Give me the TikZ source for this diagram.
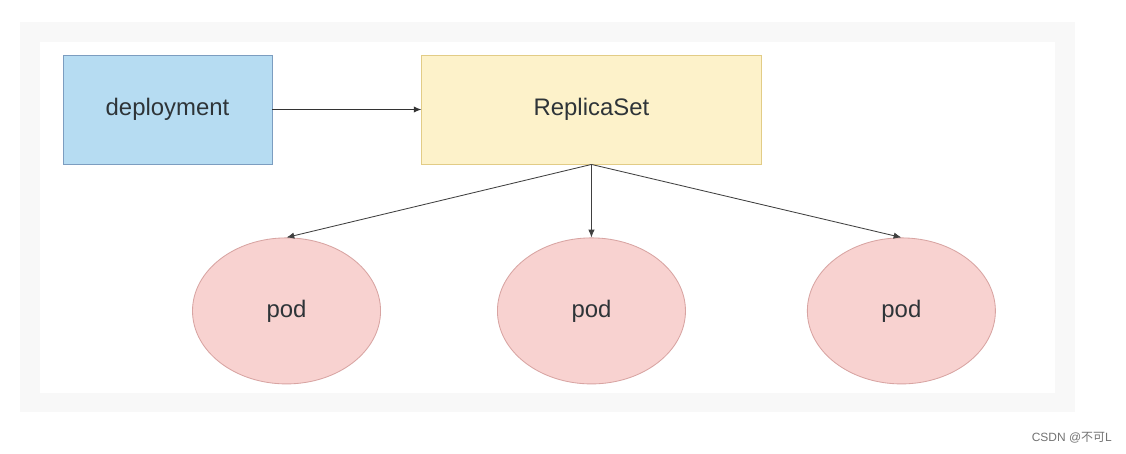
\documentclass[tikz,border=0pt]{standalone}
\usepackage{fontspec}
\setmainfont{Liberation Sans}
\newfontfamily\cjkfont{Noto Sans CJK SC}
\usepackage{tikz}
\usetikzlibrary{shapes, arrows, arrows.meta, positioning}
\definecolor{depfill}{HTML}{B6DCF2}
\definecolor{depline}{HTML}{7C9DC0}
\definecolor{rsfill}{HTML}{FDF2CA}
\definecolor{rsline}{HTML}{E2CC86}
\definecolor{podfill}{HTML}{F8D2D0}
\definecolor{podline}{HTML}{D8A4A2}
\definecolor{framegray}{HTML}{F8F8F8}
\definecolor{textgray}{HTML}{2E3438}
\tikzstyle{block} = [rectangle, draw, line width=0.6pt, minimum height=2.725cm, text centered, text=textgray, font=\fontsize{17}{20}\selectfont]
\tikzstyle{podnode} = [ellipse, draw=podline, fill=podfill, line width=0.6pt, minimum width=4.7cm, minimum height=3.65cm, text=textgray, font=\fontsize{17}{20}\selectfont]

\begin{document}
\begin{tikzpicture}[x=0.025cm, y=-0.025cm, >={Latex[length=5.5pt,width=4.5pt]}, node distance=2cm]
		% bingkai
		\useasboundingbox (0,0) rectangle (1126,454);
		\fill[white] (0,0) rectangle (1126,454);
		\fill[framegray] (20,22) rectangle (1075,412);
		\fill[white] (40,42) rectangle (1055,393);
		
		% Boks atas
		\node [block, draw=depline, fill=depfill, minimum width=5.225cm] (deployment) at (167.5,109.5) {deployment};
		\node [block, draw=rsline, fill=rsfill, minimum width=8.475cm, right=3.725cm of deployment] (replicaset) {ReplicaSet};
		
		% Pod
		\node [podnode, below=1.825cm of replicaset] (pod2) {pod};
		\node [podnode, left=2.9cm of pod2] (pod1) {pod};
		\node [podnode, right=3.025cm of pod2] (pod3) {pod};
		
		\draw[->, line width=0.8pt, black!80] (deployment) -- (replicaset);
		\draw[->, line width=0.6pt, black!75] (replicaset.south) -- (pod1.north);
		\draw[->, line width=0.6pt, black!75] (replicaset.south) -- (pod2.north);
		\draw[->, line width=0.6pt, black!75] (replicaset.south) -- (pod3.north);
		
		% watermark
		\node [text=black!55, font=\fontsize{8.5}{10}\selectfont, anchor=east, inner sep=0pt] (csdn) at (1112,438) {CSDN @{\cjkfont 不可}L};
	\end{tikzpicture}
\end{document}
